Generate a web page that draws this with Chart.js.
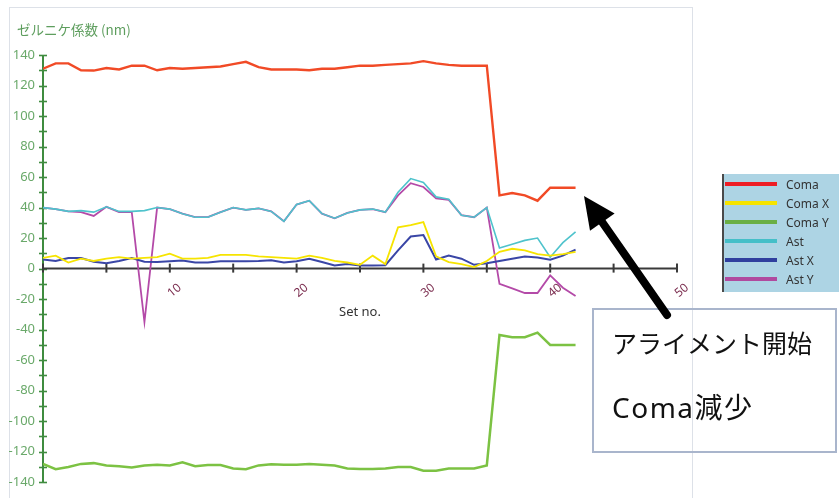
<!DOCTYPE html>
<html>
<head>
<meta charset="utf-8">
<script src="https://cdn.jsdelivr.net/npm/chart.js@4.4.1/dist/chart.umd.min.js"></script>
<style>
  html, body { margin: 0; padding: 0; background: #fff; }
  body { width: 839px; height: 498px; position: relative; overflow: hidden; }
  #panel { position: absolute; left: 9px; top: 7px; width: 682px; height: 500px; border: 1px solid #dde1e8; }
  #chart { position: absolute; left: 0; top: 0; }
  #overlay { position: absolute; left: 0; top: 0; }
</style>
</head>
<body>
<div id="panel"></div>
<canvas id="chart" width="839" height="498"></canvas>
<svg id="overlay" width="839" height="498" xmlns="http://www.w3.org/2000/svg"></svg>
<script>
// Set numbers along the x axis
const sets = [0,1,2,3,4,5,6,7,8,9,10,11,12,13,14,15,16,17,18,19,20,
              21,22,23,24,25,26,27,28,29,30,31,32,33,34,35,36,37,38,39,40,41,42];

// Zernike coefficients (nm) per set
const coma  = [131,134.5,134.5,130,129.8,131.5,130.5,133,133,130,131.5,131,131.5,132,132.5,134,135.5,132,130.5,130.5,
               130.5,130,131,131,132,133,133,133.5,134,134.5,136,134.5,133.5,133,133,133,48,49.5,48,44.5,53,53,53];
const comaX = [7,8.5,4,6.5,5,6.5,7.5,6.5,7,7.5,9.8,6.5,6.5,7,9,9,9,8,7.5,7,
               6.5,8.5,7,5,4,2.5,8.5,3,27,28.5,30.5,8,4.3,3,1,5,11,13,12,9.5,8.5,9.5,11];
const comaY = [-128,-131.5,-130,-128,-127.5,-129,-129.5,-130.3,-129,-128.5,-129,-127,-129.5,-128.8,-128.7,-131,-131.5,-129,-128.3,-128.5,
               -128.5,-128,-128.5,-129,-131,-131.4,-131.4,-131,-130,-130,-132.5,-132.5,-131,-131,-131,-129,-43.5,-45,-45,-42,-50,-50,-50];
const ast   = [40,39,37.5,38,37,40.5,37.5,37.5,38,40,39,36,33.7,33.7,37,40,38.5,39.5,37.5,31,
               42,44.5,36,33,36.5,38.5,39,37,50,59,56.5,47,45.5,35,33.7,40,13.5,16,18.5,20,7.5,17,24];
const astX  = [6,5,7,7,4.5,3.5,5,7,4.5,4.3,4.8,5.3,4,4,4.8,4.8,4.8,5,5.5,4,
               4.8,6.5,4.3,2,3,2,2,2.2,12,21,22,6,8.5,6.5,2.5,3.5,5,6.5,8,7.2,5.8,8.5,12.5];
const astY  = [40,39,37.5,37,34.5,40.5,37,37,-35,40,39,36,33.7,33.7,37,40,38.5,39.5,37.5,31,
               42,44.5,36,33,36.5,38.5,39,37,48,56,53.5,46,45,35,33.7,40,-10,-13,-16,-16,-4.5,-12.5,-18];

const seriesNames  = ['Coma', 'Coma X', 'Coma Y', 'Ast', 'Ast X', 'Ast Y'];
const seriesValues = [coma, comaX, comaY, ast, astX, astY];
const lineColors   = ['#f14a26', '#f6e400', '#7cc243', '#4fc3cc', '#3a46a6', '#b44aa8'];
const swatchColors = ['#ee1d24', '#f6e400', '#6aaf45', '#45bfc8', '#2f3f9e', '#b04a9f'];
const lineWidths   = [2.4, 1.8, 2.5, 1.6, 2, 1.8];

// Axis tick values
const xTicks = [0,5,10,15,20,25,30,35,40,45,50];
const yTickStep = 10;
const yLabelStep = 20;

const axisGreen = '#3f8c3f';

// Crossing tick marks and axis lines drawn from the scales
const axisMarks = {
  id: 'axisMarks',
  beforeDatasetsDraw(chart) {
    const {ctx, scales: {x, y}} = chart;
    const x0 = x.getPixelForValue(0);
    const y0 = y.getPixelForValue(0);
    ctx.save();
    // y axis
    ctx.strokeStyle = axisGreen;
    ctx.lineWidth = 2;
    ctx.beginPath();
    ctx.moveTo(x0, y.getPixelForValue(y.max));
    ctx.lineTo(x0, y.getPixelForValue(y.min));
    ctx.stroke();
    ctx.lineWidth = 1.6;
    for (let v = y.min; v <= y.max; v += yTickStep) {
      const py = Math.round(y.getPixelForValue(v)) + 0.5;
      ctx.beginPath();
      ctx.moveTo(x0 - 4, py);
      ctx.lineTo(x0 + 4, py);
      ctx.stroke();
    }
    // x axis along zero
    ctx.strokeStyle = '#3a3a3a';
    ctx.lineWidth = 2;
    ctx.beginPath();
    ctx.moveTo(x.getPixelForValue(x.min), y0);
    ctx.lineTo(x.getPixelForValue(x.max), y0);
    ctx.stroke();
    xTicks.forEach(v => {
      const px = x.getPixelForValue(v);
      ctx.beginPath();
      ctx.moveTo(px, y0 - 5);
      ctx.lineTo(px, y0 + 4);
      ctx.stroke();
    });
    ctx.restore();
  }
};

new Chart(document.getElementById('chart'), {
  type: 'line',
  data: {
    datasets: seriesNames.map((name, i) => ({
      label: name,
      data: seriesValues[i].map((v, j) => ({x: sets[j], y: v})),
      borderColor: lineColors[i],
      borderWidth: lineWidths[i],
      pointRadius: 0,
      tension: 0,
      fill: false
    }))
  },
  options: {
    responsive: false,
    animation: false,
    devicePixelRatio: 1,
    layout: {padding: {left: 0, right: 162, top: 55, bottom: 13}},
    plugins: {legend: {display: false}, tooltip: {enabled: false}},
    scales: {
      x: {
        type: 'linear',
        min: 0, max: 50,
        position: {y: 0},
        grid: {display: false, drawTicks: false},
        border: {display: false},
        ticks: {
          stepSize: 5, autoSkip: false,
          minRotation: 40, maxRotation: 40,
          padding: 12, labelOffset: 10,
          color: '#7b2d4f',
          font: {family: '"Noto Sans", sans-serif', size: 12},
          callback: v => (v > 0 && v % 10 === 0) ? String(v) : ''
        },
        title: {
          display: true, text: 'Set no.', color: '#333',
          font: {family: '"Noto Sans", sans-serif', size: 13},
          padding: {top: -8, bottom: 4}
        }
      },
      y: {
        min: -140, max: 140,
        grid: {display: false, drawTicks: false},
        border: {display: false},
        ticks: {
          stepSize: yTickStep, autoSkip: false, padding: 8,
          color: '#6aa96a',
          font: {family: '"Noto Sans", sans-serif', size: 13},
          callback: v => (v % yLabelStep === 0) ? String(v) : ''
        },
        afterFit: s => { s.width = 43; }
      }
    }
  },
  plugins: [axisMarks]
});

// Title, legend, note box and arrow
const NS = 'http://www.w3.org/2000/svg';
const svg = document.getElementById('overlay');
function el(tag, attrs, text) {
  const e = document.createElementNS(NS, tag);
  for (const k in attrs) e.setAttribute(k, attrs[k]);
  if (text !== undefined) e.textContent = text;
  svg.appendChild(e);
  return e;
}

el('text', {x: 17, y: 35, fill: '#5e9e5e', 'font-size': 13.5,
  'font-family': '"Noto Sans CJK JP", "Noto Sans", sans-serif'}, 'ゼルニケ係数 (nm)');

// legend
el('rect', {x: 722, y: 174, width: 117, height: 118, fill: '#add4e4'});
el('line', {x1: 723, y1: 174, x2: 723, y2: 292, stroke: '#4a4a4a', 'stroke-width': 2});
seriesNames.forEach((name, i) => {
  const cy = 184 + i * 19;
  el('line', {x1: 725, y1: cy, x2: 777, y2: cy, stroke: swatchColors[i], 'stroke-width': 4});
  el('text', {x: 786, y: cy + 4.5, fill: '#333', 'font-size': 12,
    'font-family': '"Noto Sans", sans-serif'}, name);
});

// note
el('rect', {x: 593, y: 309, width: 243, height: 143, fill: 'none', stroke: '#a9b5cc', 'stroke-width': 2});
el('text', {x: 612, y: 353, fill: '#111', 'font-size': 25,
  'font-family': '"Noto Sans CJK JP", sans-serif'}, 'アライメント開始');
el('text', {x: 612, y: 418, fill: '#111', 'font-size': 28, 'letter-spacing': 1.5,
  'font-family': '"Noto Sans", "Noto Sans CJK JP", sans-serif'}, 'Coma減少');

// arrow
el('line', {x1: 667, y1: 315, x2: 600, y2: 219, stroke: '#000', 'stroke-width': 8, 'stroke-linecap': 'round'});
el('polygon', {points: '584,196 614.6,213.6 590,230.8', fill: '#000'});
</script>
</body>
</html>
